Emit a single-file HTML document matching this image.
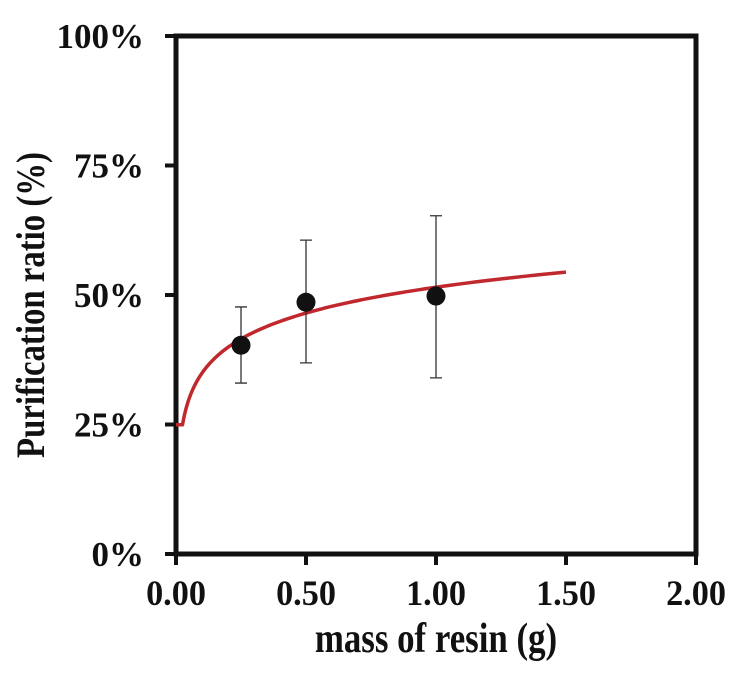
<!DOCTYPE html>
<html><head><meta charset="utf-8"><style>
body{margin:0;background:#fff}
svg text{font-family:"Liberation Serif",serif;font-weight:bold;fill:#111}
</style></head><body>
<svg id="chart" width="736" height="669" viewBox="0 0 736 669" xmlns="http://www.w3.org/2000/svg">
<g id="plot"></g>
</svg>
<script>
const xTicks=[0,0.5,1.0,1.5,2.0];
const xTickLabels=["0.00","0.50","1.00","1.50","2.00"];
const yTicks=[0,25,50,75,100];
const yTickLabels=["0%","25%","50%","75%","100%"];
const massX=[0.25,0.5,1.0];
const ratioY=[40.3,48.6,49.8];
const errHigh=[47.7,60.6,65.3];
const errLow=[33.0,36.9,34.0];
const fitA=51.5, fitB=7.2, fitStart=0.025, fitEnd=1.5;

const L=176,R=696,T=36,B=554;
const sx=v=>L+(v-0)/(2-0)*(R-L);
const sy=v=>B-(v/100)*(B-T);
const NS="http://www.w3.org/2000/svg";
const g=document.getElementById('plot');
function mk(tag,at){const e=document.createElementNS(NS,tag);for(const k in at)e.setAttribute(k,at[k]);g.appendChild(e);return e;}

const fr=mk('rect',{x:L,y:T,width:R-L,height:B-T,fill:'none',stroke:'#111','stroke-width':5});



xTicks.forEach((v,i)=>{
  const t=mk('line',{x1:sx(v),x2:sx(v),y1:B,y2:B+11,stroke:'#111','stroke-width':4});
  
  
  const tx=mk('text',{x:0,y:0,'font-size':36,'text-anchor':'middle',transform:`translate(${sx(v)},605) scale(0.95,1)`});
  tx.textContent=xTickLabels[i];
  
  
});
yTicks.forEach((v,i)=>{
  const t=mk('line',{x1:L-11,x2:L,y1:sy(v),y2:sy(v),stroke:'#111','stroke-width':4});
  
  
  const tx=mk('text',{x:0,y:0,'font-size':35,'text-anchor':'end',transform:`translate(144,${sy(v)+12})`});
  tx.textContent=yTickLabels[i];
  
  
});

let d='M'+sx(0)+','+sy(fitA+fitB*Math.log(fitStart)).toFixed(2);
for(let k=0;k<=200;k++){
  const x=fitStart*Math.pow(fitEnd/fitStart,k/200);
  const y=fitA+fitB*Math.log(x);
  d+='L'+sx(x).toFixed(2)+','+sy(y).toFixed(2);
}
const cv=mk('path',{d:d,fill:'none',stroke:'#c0282d','stroke-width':3.5,'stroke-linejoin':'round'});



massX.forEach((x,i)=>{
  const cx=sx(x);
  const e=mk('path',{d:`M${cx},${sy(errHigh[i])}V${sy(errLow[i])}M${cx-6},${sy(errHigh[i])}H${cx+6}M${cx-6},${sy(errLow[i])}H${cx+6}`,stroke:'#333','stroke-width':1.3,fill:'none'});
  
  
  const c=mk('circle',{cx:cx,cy:sy(ratioY[i]),r:9.5,fill:'#111'});
  
  
});

const xt=mk('text',{x:0,y:0,'font-size':42,'text-anchor':'middle',transform:`translate(436,652) scale(0.83,1)`});
xt.textContent='mass of resin (g)';


const yt=mk('text',{x:0,y:0,'font-size':40,'text-anchor':'middle',transform:`translate(44,${(T+B)/2+10}) rotate(-90) scale(0.82,1)`});
yt.textContent='Purification ratio (%)';


</script>
</body></html>
